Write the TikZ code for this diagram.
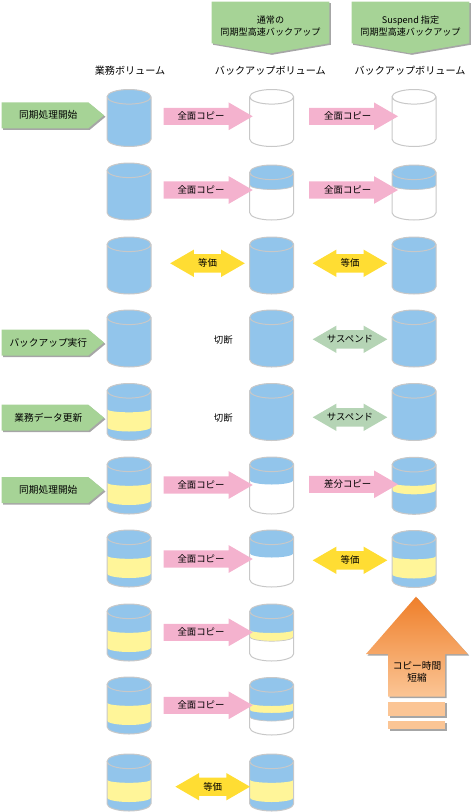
\documentclass[tikz,border=0pt]{standalone}
\usepackage{fontspec}
\setmainfont{Noto Sans CJK JP}
\usetikzlibrary{arrows.meta,calc,positioning,shadows,shapes.arrows}

\definecolor{volblue}{HTML}{92C5EB}
\definecolor{volyellow}{HTML}{FFF599}
\definecolor{volgrey}{HTML}{C8C8C8}
\definecolor{copypink}{HTML}{F4B2CE}
\definecolor{equalyellow}{HTML}{FFDD33}
\definecolor{suspendgreen}{HTML}{B5D4B5}
\definecolor{signgreen}{HTML}{A6D396}
\definecolor{barorange}{HTML}{FBC595}
\definecolor{tiporange}{HTML}{EF7F2A}

\tikzset{
  softshadow/.style={drop shadow={shadow xshift=1.5pt,shadow yshift=-1.5pt,opacity=.35,fill=black}},
  signbox/.style={fill=signgreen,softshadow},
  lbl/.style={inner sep=0pt,font=\fontsize{9.4}{11.7}\selectfont,align=center},
  heading/.style={inner sep=0pt,font=\fontsize{10.1}{12}\selectfont},
  copyarrow/.style={single arrow,fill=copypink,inner sep=0pt,outer sep=0pt,
    single arrow head extend=5.3pt,single arrow tip angle=60,minimum height=89pt,anchor=tail},
  equalarrow/.style={double arrow,fill=#1,inner sep=0pt,outer sep=0pt,
    double arrow head extend=4.5pt,double arrow tip angle=60,minimum height=74.6pt},
}

% [height]{centre x}{top y}{body colour}{cap colour}{bands}
\newcommand{\volume}[6][57]{%
  \begin{scope}[shift={(#2,-#3)}]
    \fill[#4] (-22,-7.3) -- (-22,-#1+7.3) arc[start angle=180,end angle=360,x radius=22,y radius=7.3]
      -- (22,-7.3) arc[start angle=0,end angle=180,x radius=22,y radius=7.3] -- cycle;
    #6
    \fill[#5] (0,-7.3) ellipse[x radius=22,y radius=7.3];
    \draw[volgrey,line width=1pt] (-22,-7.3) -- (-22,-#1+7.3) arc[start angle=180,end angle=360,x radius=22,y radius=7.3]
      -- (22,-7.3) arc[start angle=0,end angle=180,x radius=22,y radius=7.3] arc[start angle=180,end angle=360,x radius=22,y radius=7.3];
  \end{scope}}
\newcommand{\band}[3]{\fill[#3] (-22,-#1) arc[start angle=180,end angle=360,x radius=22,y radius=3]
  -- (22,-#2) arc[start angle=0,end angle=180,x radius=22,y radius=-4.5] -- cycle;}
\newcommand{\bandline}[1]{\draw[volgrey,line width=.7pt] (-22,-#1) arc[start angle=180,end angle=360,x radius=22,y radius=4.5];}
\newcommand{\databand}{\band{25.8}{43.5}{volyellow}}

\begin{document}
\begin{tikzpicture}[x=1pt,y=1pt]
  \useasboundingbox (0,0) rectangle (473,-812);

  % headers
  \foreach \n/\x/\t in {plain/270.5/通常の,susp/410.5/Suspend 指定} {
    \path[signbox] (\x-58.8,-1.7) -- (\x+58.8,-1.7) -- (\x+58.8,-43.3) -- (\x,-53.3) -- (\x-58.8,-43.3) -- cycle;
    \node[lbl,font=\fontsize{9.1}{11.7}\selectfont] (head\n) at (\x,-25.8) {\t\\同期型高速バックアップ};
  }
  \node[heading] (colmain) at (130,-71) {業務ボリューム};
  \node[heading] (colplain) at (270.3,-71) {バックアップボリューム};
  \node[heading] (colsusp) at (410,-71) {バックアップボリューム};

  % step signs
  \foreach \n/\y/\t in {start/115.3/同期処理開始,exec/342.5/バックアップ実行,update/417.7/業務データ更新,restart/490/同期処理開始} {
    \path[signbox] (1.7,-\y+13) -- (88.3,-\y+13) -- (104,-\y) -- (88.3,-\y-13) -- (1.7,-\y-13) -- cycle;
    \node[lbl,font=\fontsize{9.7}{11.7}\selectfont] (step\n) at (48.3,-\y) {\t};
  }

  % main volumes
  \foreach \y in {89.5,163,237,310}
    \volume{129}{\y}{volblue}{volblue}{};
  \foreach \y in {383.5,457,530,604,677,754}
    \volume{129}{\y}{volblue}{volblue}{\databand};

  % plain backup volumes
  \volume{271.7}{89.5}{white}{white}{};
  \volume[55]{271.7}{165}{white}{volblue}{\band{7.3}{20}{volblue}\bandline{20}};
  \volume{271.7}{237}{volblue}{volblue}{};
  \volume{271.7}{310}{volblue}{volblue}{};
  \volume{271.7}{383.5}{volblue}{volblue}{};
  \volume{271.7}{457}{white}{volblue}{\band{7.3}{23}{volblue}};
  \volume{271.7}{530}{white}{volblue}{\band{7.3}{23}{volblue}};
  \volume{271.7}{604}{white}{volblue}{\band{7.3}{26}{volblue}\band{26}{32.7}{volyellow}\bandline{32.7}};
  \volume[57.5]{271.7}{677.5}{white}{volblue}{\band{7.3}{25.5}{volblue}\band{25.5}{32.5}{volyellow}\band{32.5}{39}{volblue}\bandline{39}};
  \volume{271.7}{754}{volblue}{volblue}{\databand};

  % suspend backup volumes
  \volume{414}{89.5}{white}{white}{};
  \volume[55]{414}{165}{white}{volblue}{\band{7.3}{20}{volblue}\bandline{20}};
  \volume{414}{237}{volblue}{volblue}{};
  \volume{414}{310}{volblue}{volblue}{};
  \volume{414}{383.5}{volblue}{volblue}{};
  \volume{414}{457.3}{volblue}{volblue}{\band{25.5}{32.5}{volyellow}};
  \volume{414}{530.5}{volblue}{volblue}{\databand};

  % copy arrows
  \foreach \n/\y in {a/116.3,b/190,c/485,d/559,e/632.3,f/705.3} {
    \node[copyarrow] (copy\n) at (163.7,-\y) {\rule{0pt}{16.7pt}};
    \node[lbl] (copytext\n) at (201,-\y) {全面コピー};
  }
  \foreach \n/\y/\t in {g/116.3/全面コピー,h/190/全面コピー,i/484.3/差分コピー} {
    \node[copyarrow] (copy\n) at (309,-\y) {\rule{0pt}{16.7pt}};
    \node[lbl] (copytext\n) at (347.7,-\y) {\t};
  }

  % equal and suspend arrows
  \foreach \n/\x/\y in {a/207.5/263.3,b/350/263.3,c/350/560.3,d/212.7/786.7} {
    \node[equalarrow=equalyellow] (equal\n) at (\x,-\y) {\rule{0pt}{18pt}};
    \node[lbl] (equaltext\n) at (\x,-\y) {等価};
  }
  \foreach \n/\y in {a/339.3,b/417.3} {
    \node[equalarrow=suspendgreen] (suspend\n) at (350,-\y) {\rule{0pt}{18pt}};
    \node[lbl] (suspendtext\n) at (350,-\y) {サスペンド};
    \node[lbl] (cut\n) at (223.3,-\y-1) {切断};
  }

  % shorter copy time
  \path[top color=tiporange,bottom color=barorange,softshadow] (416,-596.7) -- (467.7,-654) -- (445,-654) -- (445,-696.7) -- (388,-696.7) -- (388,-654) -- (366,-654) -- cycle;
  \node[lbl,font=\fontsize{9.7}{11.7}\selectfont] (shortertext) at (417,-671.5) {コピー時間\\短縮};
  \path[fill=barorange,softshadow] (388,-701.7) rectangle (445,-716);
  \path[fill=barorange,softshadow] (388,-721) rectangle (445,-729);
\end{tikzpicture}
\end{document}
